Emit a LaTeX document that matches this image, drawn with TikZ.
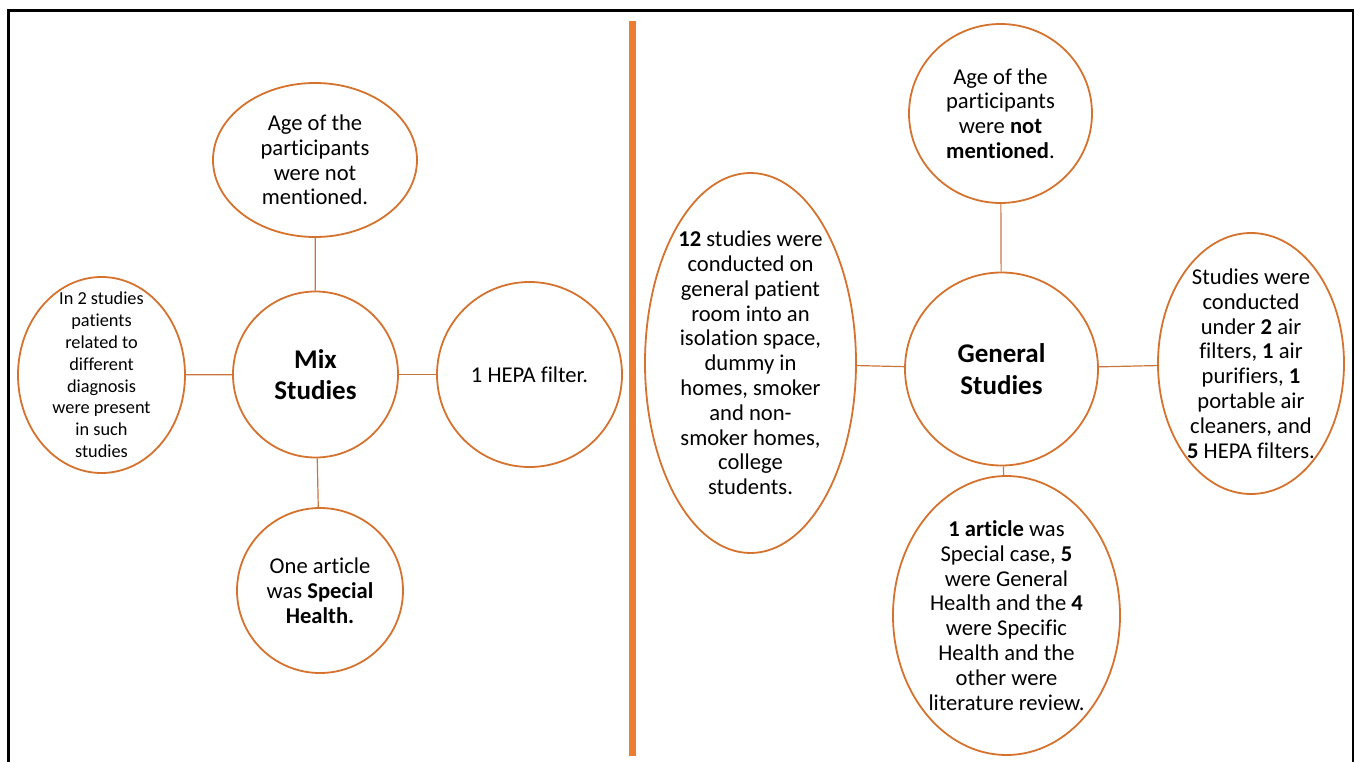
\documentclass[tikz,border=0pt]{standalone}
\usepackage{fontspec}
\setmainfont{Carlito}[Ligatures=NoCommon]
\usetikzlibrary{shapes.geometric}
\definecolor{bubline}{HTML}{D4722E}
\definecolor{conline}{HTML}{C8763E}
\definecolor{divorange}{HTML}{ED7D31}
\tikzset{
  bub/.style={ellipse, draw=bubline, line width=1.8pt, inner sep=0pt},
  txt/.style={align=center, inner sep=0pt, font=\fontsize{22.6}{24.8}\selectfont},
  smalltxt/.style={align=center, inner sep=0pt, font=\fontsize{18.3}{21.8}\selectfont},
  bigtxt/.style={align=center, inner sep=0pt, font=\fontsize{27}{31.5}\selectfont\bfseries},
  con/.style={draw=conline, line width=1.2pt},
}
\begin{document}
\begin{tikzpicture}[x=1pt,y=-1pt]
\useasboundingbox (0,0) rectangle (1355,762);
% frame
\draw[line width=3pt] (8.7,762) -- (8.7,10.3) -- (1353.3,10.3);
\draw[line width=2pt] (1353.3,9) -- (1353.3,762);
% divider
\draw[divorange, line width=6.5pt] (632.5,21) -- (632.5,756);

% ---- left cluster
\node[bub, minimum width=165pt, minimum height=166pt] (mix) at (315.5,374.5) {};
\node[bigtxt] at (mix.center) {Mix\\Studies};
\node[bub, minimum width=204pt, minimum height=154pt] (lage) at (315,160) {};
\node[txt] at (lage.center) {Age of the\\participants\\were not\\mentioned.};
\node[bub, minimum width=167pt, minimum height=196pt] (ldiag) at (101.5,375) {};
\node[smalltxt] at (ldiag.center) {In 2 studies\\patients\\related to\\different\\diagnosis\\were present\\in such\\studies};
\node[bub, minimum width=185pt, minimum height=185pt] (hepa) at (529.5,374.5) {};
\node[txt] at (hepa.center) {1 HEPA filter.};
\node[bub, minimum width=166pt, minimum height=165pt] (lart) at (320,590.5) {};
\node[txt] at (lart.center) {One article\\was \textbf{Special}\\\textbf{Health.}};
\draw[con] (lage) -- (mix);
\draw[con] (ldiag) -- (mix);
\draw[con] (mix) -- (hepa);
\draw[con] (mix) -- (lart);

% ---- right cluster
\node[bub, minimum width=193pt, minimum height=193pt] (gen) at (1001.5,369) {};
\node[bigtxt] at (gen.center) {General\\Studies};
\node[bub, minimum width=183pt, minimum height=179pt] (rage) at (1000.5,113.5) {};
\node[txt] at (rage.center) {Age of the\\participants\\were \textbf{not}\\\textbf{mentioned}.};
\node[bub, minimum width=211pt, minimum height=380pt] (rplace) at (750.5,363) {};
\node[txt] at (rplace.center) {\textbf{12} studies were\\conducted on\\general patient\\room into an\\isolation space,\\dummy in\\homes, smoker\\and non-\\smoker homes,\\college\\students.};
\node[bub, minimum width=186pt, minimum height=261pt] (rfilt) at (1251,363.5) {};
\node[txt] at (rfilt.center) {Studies were\\conducted\\under \textbf{2} air\\filters, \textbf{1} air\\purifiers, \textbf{1}\\portable air\\cleaners, and\\\textbf{5} HEPA filters.};
\node[bub, minimum width=227pt, minimum height=279pt] (rart) at (1006.5,615.5) {};
\node[txt] at (rart.center) {\textbf{1 article} was\\Special case, \textbf{5}\\were General\\Health and the \textbf{4}\\were Specific\\Health and the\\other were\\literature review.};
\draw[con] (rage) -- (gen);
\draw[con] (rplace) -- (gen);
\draw[con] (gen) -- (rfilt);
\draw[con] (gen) -- (rart);
\end{tikzpicture}
\end{document}
